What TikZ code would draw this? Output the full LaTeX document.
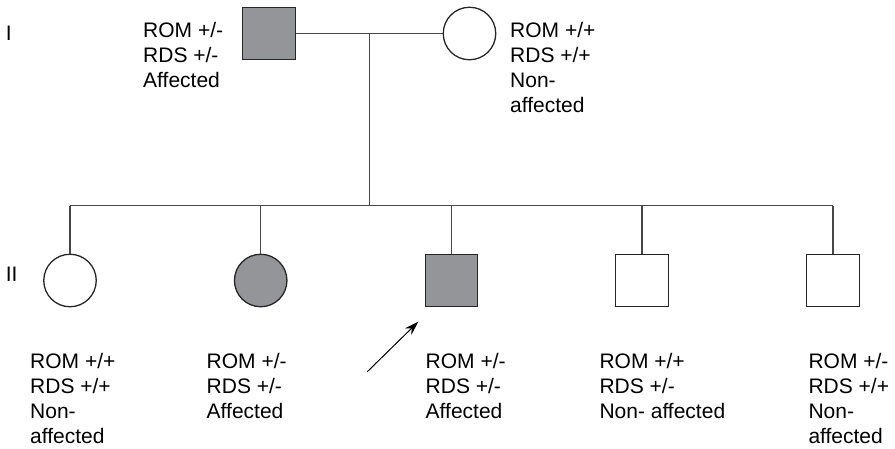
\documentclass[tikz,border=0pt]{standalone}
\usepackage{fontspec}
\setmainfont{Liberation Sans}
\usetikzlibrary{arrows.meta}
\definecolor{affgray}{RGB}{147,149,152}
\definecolor{linegray}{RGB}{70,70,70}
\begin{document}
\begin{tikzpicture}[x=1pt,y=-1pt,
  every node/.style={font=\fontsize{21}{25}\selectfont},
  person/.style={draw=black!85,line width=1.3pt,inner sep=0pt,minimum size=52.5pt},
  male/.style={person,rectangle,fill=white},
  female/.style={person,circle,fill=white},
  affected/.style={fill=affgray},
  link/.style={draw=linegray,line width=1.3pt},
  % multi-line labels are placed by the baseline of their last line
  info/.style={align=left,anchor=base west,inner sep=0pt},
  gen/.style={anchor=center,inner sep=0pt}]
\useasboundingbox (0,0) rectangle (895,448);

% generation labels
\node[gen] (g1) at (8.7,33.5) {I};
\node[gen] (g2) at (11.7,274) {II};

% parents
\node[male,affected] (father) at (269,33.5) {};
\node[female] (mother) at (469.5,33.5) {};
\coordinate (mate) at (369.3,33.5);
\coordinate (sibs) at (369.3,205.7);

% children
\node[female] (c1) at (70,280.5) {};
\node[female,affected] (c2) at (260.7,280.5) {};
\node[male,affected] (c3) at (451.5,280.5) {};
\node[male] (c4) at (642,280.5) {};
\node[male] (c5) at (833,280.5) {};

% lines of descent
\draw[link] (father.east) -- (mother.west);
\draw[link] (mate) -- (sibs);
\draw[link] (c1 |- sibs) -- (c5 |- sibs);
\foreach \c in {c1,c2,c3,c4,c5}
  \draw[link] (\c |- sibs) -- (\c.north);

% proband arrow
\coordinate (ptail) at (367.3,371.7);
\coordinate (phead) at (418.3,321.7);
\draw[line width=1pt,-{Stealth[length=14pt,width=9pt]}] (ptail) -- (phead);

% genotypes and status
\node[info] (tf) at (143,87) {ROM +/-\\RDS +/-\\Affected};
\node[info] (tm) at (510,112) {ROM +/+\\RDS +/+\\Non-\\affected};
\node[info] (t1) at (30,443) {ROM +/+\\RDS +/+\\Non-\\affected};
\node[info] (t2) at (206.5,418) {ROM +/-\\RDS +/-\\Affected};
\node[info] (t3) at (425.5,418) {ROM +/-\\RDS +/-\\Affected};
\node[info] (t4) at (599.3,418) {ROM +/+\\RDS +/-\\Non- affected};
\node[info] (t5) at (808.3,443) {ROM +/-\\RDS +/+\\Non-\\affected};
\end{tikzpicture}
\end{document}
